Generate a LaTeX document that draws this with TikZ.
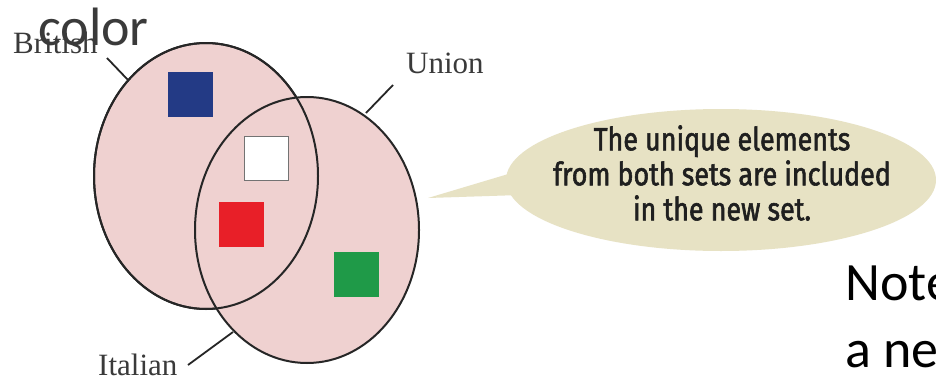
\documentclass[tikz,border=0pt]{standalone}
\usepackage{fontspec}
\setmainfont{Liberation Serif}
\newfontfamily\calib{Carlito}
\newfontfamily\handfont[FakeStretch=0.84,FakeBold=1.8]{Fira Sans}
\definecolor{setpink}{HTML}{EFD1D0}
\definecolor{bubble}{HTML}{E7E2C4}
\definecolor{sqblue}{HTML}{233A85}
\definecolor{sqred}{HTML}{E81F28}
\definecolor{sqgreen}{HTML}{1F9A48}
\definecolor{labgray}{HTML}{3A3A3A}
\begin{document}
\begin{tikzpicture}[x=1pt,y=-1pt,
  setell/.style={draw=black!85,line width=2pt,fill=setpink},
  sq/.style={minimum size=45pt,inner sep=0pt,draw=none},
  lab/.style={font=\fontsize{31}{34}\selectfont,text=labgray,inner sep=0pt},
  leader/.style={draw=black!85,line width=1.8pt},
  big/.style={font=\calib\fontsize{54}{60}\selectfont,inner sep=0pt,anchor=base west}]
\clip (0,0) rectangle (936,380);
\fill[white] (0,0) rectangle (936,380);
% sets
\path[setell] (206,176) ellipse [x radius=112,y radius=133];
\path[setell] (307,230) ellipse [x radius=112,y radius=133];
\draw[draw=black!85,line width=2pt] (206,176) ellipse [x radius=112,y radius=133];
% squares
\node[sq,fill=sqblue] (blue) at (190,94) {};
\node[sq,fill=white,draw=black!55,line width=1pt,minimum size=44pt] (white) at (266,158) {};
\node[sq,fill=sqred] (red) at (241,224) {};
\node[sq,fill=sqgreen] (green) at (356,274) {};
% labels
\node[lab,anchor=base west] (brit) at (13,53) {British};
\node[lab,anchor=base west] (union) at (406,73) {Union};
\node[lab,anchor=base west] (ital) at (98,375) {Italian};
\coordinate (b1) at (107,58); \coordinate (b2) at (128,80);
\coordinate (u1) at (393,85); \coordinate (u2) at (366,113);
\coordinate (i1) at (188,365); \coordinate (i2) at (233,332);
\draw[leader] (b1) -- (b2);
\draw[leader] (u1) -- (u2);
\draw[leader] (i1) -- (i2);
% callout
\coordinate (tip) at (428,198);
\fill[bubble] (tip) -- (515,172) -- (520,195) -- cycle;
\fill[bubble] (721,180) ellipse [x radius=215,y radius=71];
\node[align=center,font=\handfont\fontsize{32}{35}\selectfont,text=black!88,inner sep=0pt] (msg) at (722,173)
  {The unique elements\\from both sets are included\\in the new set.};
% overlay texts
\node[big,text=labgray] (color) at (38,45) {color};
\node[big,text=black] (note) at (845,300) {Note};
\node[big,text=black] (anew) at (845,367) {a ne};
\end{tikzpicture}
\end{document}
